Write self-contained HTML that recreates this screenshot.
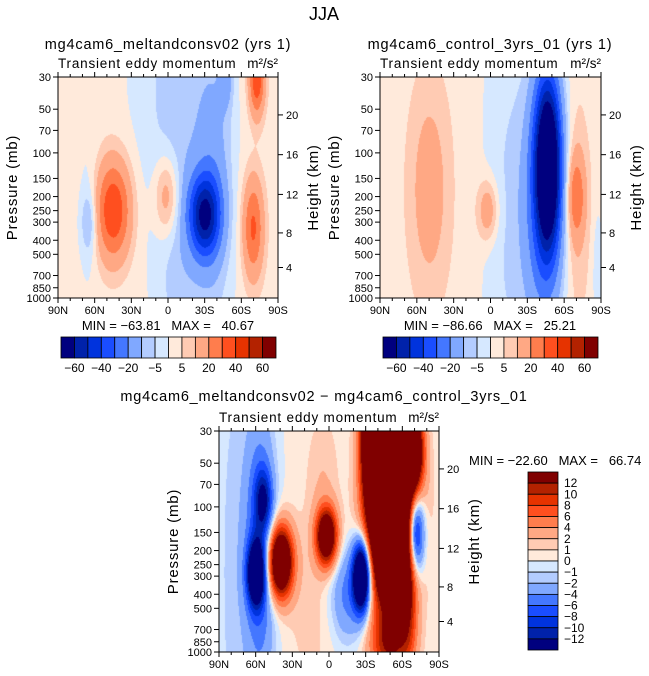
<!DOCTYPE html>
<html><head><meta charset="utf-8">
<style>
html,body{margin:0;padding:0;background:#fff;}
#wrap{position:relative;width:649px;height:676px;overflow:hidden;font-family:"Liberation Sans",sans-serif;}
canvas{position:absolute;}
svg{position:absolute;left:0;top:0;}
</style></head>
<body>
<div id="wrap">
<canvas id="c1" width="220" height="221" style="left:58px;top:77px"></canvas>
<canvas id="c2" width="221" height="221" style="left:380px;top:77px"></canvas>
<canvas id="c3" width="220" height="221" style="left:219px;top:431px"></canvas>
<svg id="s" width="649" height="676"></svg>
</div>
<script>
// ---- data ----
const latTicks = ["90N","60N","30N","0","30S","60S","90S"];
const latTickValues = [90,60,30,0,-30,-60,-90];
const pLevels = [30,50,70,100,150,200,250,300,400,500,700,850,1000];
const hTicks = [4,8,12,16,20];
const colors = ["#00007f","#0022aa","#0033dd","#1a4dff","#4477ff","#80a8ff","#b3ccff","#d6e8ff","#ffeadb","#ffcbb3","#ffa884","#ff7d4d","#ff4f1f","#e63300","#b32200","#800000"];
const levelsAbs = [-60,-50,-40,-30,-20,-10,-5,0,5,10,20,30,40,50,60];
const levelsAbsLabels = ["-60","-40","-20","-5","5","20","40","60"];
const levelsDiff = [-12,-10,-8,-6,-4,-2,-1,0,1,2,4,6,8,10,12];
const levelsDiffLabels = ["12","10","8","6","4","2","1","0","-1","-2","-4","-6","-8","-10","-12"];
// blobs: [lat, pressure(mb), amplitude, latSd(deg), logP sd]
const base1 = 2;
const blobs1 = [
 [-8,700,-5,13,0.4],[0,30,-6.5,22,0.5],[-15,300,-4,16,1.0],[45,250,38,10,0.16],[65,300,-12,4.5,0.1],[65,250,-4,6,0.3],
 [1,200,18,7,0.13],[-30,270,-55,9,0.13],[-38,150,-14,11,0.45],[-48,30,-12,4,0.1],
 [-70,330,30,6,0.16],[-73,30,38,4.5,0.12]
];
const base2 = 3;
const blobs2 = [
 [-10,300,-7,13,1.2],[50,180,12,11,0.32],[2,250,16,6,0.1],[-47,120,-85,7.5,0.28],
 [-42,250,-25,13,0.45],[-70,200,22,5,0.13],[-70,250,8,7,0.35],[-88,700,-8,3,0.2]
];
const base3 = 0.3;
const blobs3 = [
 [80,300,-1.5,10,1.0],[60,290,-18,5,0.1],[54,90,-9,5,0.1],[57,200,-7,9,0.45],
 [40,240,24,7,0.11],[2,160,20,6,0.09],[-27,300,-25,5,0.11],[-15,400,-5,10,0.15],
 [-52,120,50,12,0.25],[-38,30,40,7,0.2],[-68,40,25,6,0.12],[-50,900,10,11,0.1],[-70,150,-22,5.5,0.14],
 [-65,400,8,5,0.2],[5,60,1.5,9,0.2],[15,450,1.2,14,0.3]
];
const minmax1 = ["-63.81","40.67"];
const minmax2 = ["-86.66","25.21"];
const minmax3 = ["-22.60","66.74"];

// ---- scales ----
const L = Math.log(1000/30);
function vOf(p){return Math.log(p/30)/L;}
function pOfZ(z){const m=z*1000; if(m<=11000) return 1013.25*Math.pow(1-2.25577e-5*m,5.25588); return 226.32*Math.exp(-(m-11000)/6341.6);}

function drawField(id, base, blobs, levels){
  const cv=document.getElementById(id), ctx=cv.getContext('2d');
  const W=cv.width,H=cv.height, img=ctx.createImageData(W,H);
  for(let y=0;y<H;y++){
    const v=y/(H-1);
    for(let x=0;x<W;x++){
      const lat=90-180*x/(W-1);
      let val=base;
      for(const b of blobs){
        const dl=(lat-b[0])/b[3], dv=(v-vOf(b[1]))/b[4];
        val+=b[2]*Math.exp(-0.5*(dl*dl+dv*dv));
      }
      let k=0; while(k<levels.length && val>=levels[k]) k++;
      const c=colors[k], i=(y*W+x)*4;
      img.data[i]=parseInt(c.substr(1,2),16);img.data[i+1]=parseInt(c.substr(3,2),16);img.data[i+2]=parseInt(c.substr(5,2),16);img.data[i+3]=255;
    }
  }
  ctx.putImageData(img,0,0);
}
drawField('c1',base1,blobs1,levelsAbs);
drawField('c2',base2,blobs2,levelsAbs);
drawField('c3',base3,blobs3,levelsDiff);

const S=document.getElementById('s'), NS="http://www.w3.org/2000/svg";
function mk(tag,attrs,parent){const e=document.createElementNS(NS,tag);for(const k in attrs)e.setAttribute(k,attrs[k]);(parent||S).appendChild(e);return e;}
function txt(str,x,y,size,anchor,parent){const t=mk('text',{x:x,y:y,'font-size':size,'text-anchor':anchor||'middle',fill:'#000','font-family':'Liberation Sans, sans-serif'},parent);t.textContent=str;return t;}

function axes(x0,y0,w,h,name){
  const g=mk('g',{});
  
  
  mk('rect',{x:x0,y:y0,width:w,height:h,fill:'none',stroke:'#000','stroke-width':1},g);
  const xs=lat=>x0+(90-lat)/180*w;
  for(let lat=90;lat>=-90;lat-=10){
    const X=xs(lat), major=(lat%30===0), len=major?5:3;
    mk('line',{x1:X,y1:y0+h,x2:X,y2:y0+h+len,stroke:'#000'},g);
    mk('line',{x1:X,y1:y0,x2:X,y2:y0-len,stroke:'#000'},g);
  }
  latTicks.forEach((lb,i)=>{const t=txt(lb,xs(latTickValues[i]),y0+h+16,11,'middle',g);
    
    });
  pLevels.forEach(p=>{const Y=y0+vOf(p)*h;
    mk('line',{x1:x0-5,y1:Y,x2:x0,y2:Y,stroke:'#000'},g);
    const t=txt(String(p),x0-7,Y+4,11,'end',g);
    
    });
  hTicks.forEach(z=>{const Y=y0+vOf(pOfZ(z))*h;
    mk('line',{x1:x0+w,y1:Y,x2:x0+w+5,y2:Y,stroke:'#000'},g);
    const t=txt(String(z),x0+w+8,Y+4,11,'start',g);
    
    });
  const cy=y0+h/2;
  const pt=txt('Pressure (mb)',0,0,15,'middle',g);
  pt.setAttribute('transform','translate('+(x0-41)+','+cy+') rotate(-90)');
  pt.setAttribute('letter-spacing','0.8');
  
  
  const ht=txt('Height (km)',0,0,15,'middle',g);
  ht.setAttribute('transform','translate('+(x0+w+40)+','+cy+') rotate(-90)');
  ht.setAttribute('letter-spacing','0.8');
  
  
  const st=txt('Transient eddy momentum',x0,y0-9,13.5,'start',g);
  st.setAttribute('letter-spacing','0.8');
  
  
  const un=txt('m²/s²',x0+w,y0-9,13.5,'end',g);
  
  
}

function hbar(x0,y0,w,h,labels,name){
  const g=mk('g',{});
  
  
  const bw=w/colors.length;
  colors.forEach((c,i)=>{const r=mk('rect',{x:x0+i*bw,y:y0,width:bw,height:h,fill:c,stroke:'#000','stroke-width':0.8},g);
    
    });
  labels.forEach((lb,j)=>{const t=txt(lb.replace('-','−'),x0+(2*j+1)*bw,y0+h+14,12,'middle',g);
    
    });
}
function vbar(x0,y0,w,h,labels,name){
  const g=mk('g',{});
  
  
  const bh=h/colors.length;
  colors.slice().reverse().forEach((c,i)=>{const r=mk('rect',{x:x0,y:y0+i*bh,width:w,height:bh,fill:c,stroke:'#000','stroke-width':0.8},g);
    
    });
  labels.forEach((lb,j)=>{const t=txt(lb.replace('-','−'),x0+w+6,y0+(j+1)*bh+4,12,'start',g);
    
    });
}

let t;
t=txt('JJA',324,20,18);



axes(58,77,220,221,'panel1');
t=txt('mg4cam6_meltandconsv02 (yrs 1)',168,49,14.5);
t.setAttribute('letter-spacing','0.8');


t=txt('MIN = '+minmax1[0].replace('-','−')+'   MAX =   '+minmax1[1],168,330,13);
t.style.whiteSpace='pre';


hbar(61,337,215,21,levelsAbsLabels,'panel1-colorbar');

axes(380,77,221,221,'panel2');
t=txt('mg4cam6_control_3yrs_01 (yrs 1)',490,49,14.5);
t.setAttribute('letter-spacing','0.8');


t=txt('MIN = '+minmax2[0].replace('-','−')+'   MAX =   '+minmax2[1],490,330,13);
t.style.whiteSpace='pre';


hbar(383,337,215,21,levelsAbsLabels,'panel2-colorbar');

axes(219,431,220,221,'panel3');
t=txt('mg4cam6_meltandconsv02 − mg4cam6_control_3yrs_01',324,401,14.5);
t.setAttribute('letter-spacing','0.8');


t=txt('MIN = '+minmax3[0].replace('-','−')+'   MAX =   '+minmax3[1],469,465,13,'start');
t.style.whiteSpace='pre';


vbar(528,472,30,178,levelsDiffLabels,'panel3-colorbar');
</script>
</body></html>
